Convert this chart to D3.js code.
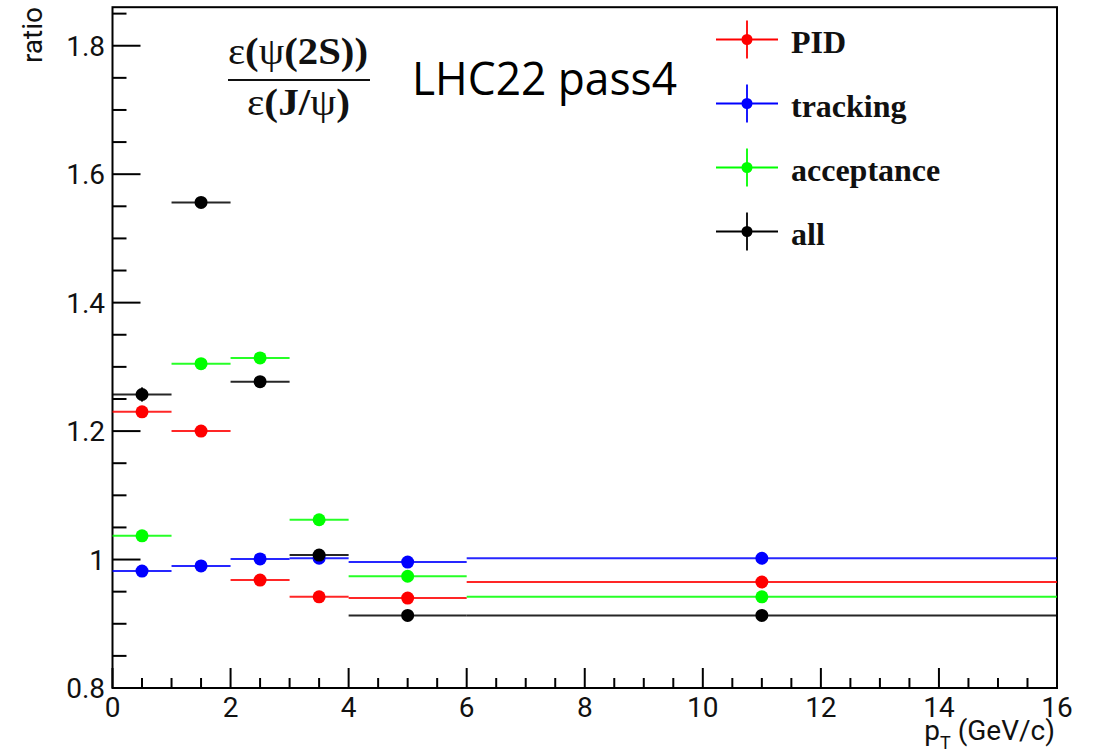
<!DOCTYPE html>
<html>
<head>
<meta charset="utf-8">
<script src="https://cdn.jsdelivr.net/npm/d3@7.9.0/dist/d3.min.js"></script>
<style>
  body { margin: 0; background: #fff; }
  svg { display: block; }
  .tick-label { font-family: Roboto, "Liberation Sans", sans-serif; font-size: 28px; fill: #111; }
</style>
</head>
<body>
<svg id="chart" width="1096" height="756"></svg>
<script>
// pT bins (GeV/c)
const binLo = [0, 1, 2, 3, 4, 6];
const binHi = [1, 2, 3, 4, 6, 16];
const binCenter = [0.5, 1.5, 2.5, 3.5, 5, 11];

// efficiency ratio psi(2S)/Jpsi per bin
const pid        = [1.230, 1.200, 0.968, 0.942, 0.940, 0.965];
const tracking   = [0.982, 0.990, 1.001, 1.002, 0.996, 1.002];
const acceptance = [1.037, 1.305, 1.314, 1.062, 0.974, 0.942];
const all        = [1.257, 1.556, 1.277, 1.007, 0.913, 0.913];
const allErr     = [0.011, 0.003, 0.003, 0.003, 0.002, 0.002];

const seriesNames  = ['PID', 'tracking', 'acceptance', 'all'];
const seriesColors = ['#ff0000', '#0000ff', '#00ff00', '#000000'];
const seriesValues = [pid, tracking, acceptance, all];
const seriesErrors = [null, null, null, allErr];

const yMajor = [0.8, 1.0, 1.2, 1.4, 1.6, 1.8];
const xMajor = [0, 2, 4, 6, 8, 10, 12, 14, 16];

const svg = d3.select('#chart');
const x = d3.scaleLinear().domain([0, 16]).range([112.5, 1057]);
const y = d3.scaleLinear().domain([0.8, 1.86]).range([688, 7.2]);

// frame
svg.append('rect')
  .attr('x', x(0)).attr('y', y(1.86))
  .attr('width', x(16) - x(0)).attr('height', y(0.8) - y(1.86))
  .attr('fill', 'none').attr('stroke', '#000').attr('stroke-width', 2);

// y ticks: major every 0.2, minor every 0.05
const yMinor = d3.range(0.8, 1.8601, 0.05);
svg.append('g').selectAll('line').data(yMinor).join('line')
  .attr('x1', x(0)).attr('x2', (d) => x(0) + (yMajor.some((m) => Math.abs(m - d) < 1e-6) ? 28 : 14))
  .attr('y1', (d) => y(d)).attr('y2', (d) => y(d))
  .attr('stroke', '#000').attr('stroke-width', 2);
svg.append('g').selectAll('text').data(yMajor).join('text')
  .attr('class', 'tick-label')
  .attr('x', 105).attr('y', (d) => y(d) + 10)
  .attr('text-anchor', 'end')
  .text((d) => Math.abs(d - 1) < 1e-6 ? '1' : d3.format('.1f')(d));

// x ticks: major every 2, minor every 0.5
const xMinor = d3.range(0, 16.001, 0.5);
svg.append('g').selectAll('line').data(xMinor).join('line')
  .attr('x1', (d) => x(d)).attr('x2', (d) => x(d))
  .attr('y1', y(0.8)).attr('y2', (d) => y(0.8) - (d % 2 === 0 ? 20 : 10))
  .attr('stroke', '#000').attr('stroke-width', 2);
svg.append('g').selectAll('text').data(xMajor).join('text')
  .attr('class', 'tick-label')
  .attr('x', (d) => x(d)).attr('y', 717)
  .attr('text-anchor', 'middle')
  .text((d) => d);

// axis titles
const xt = svg.append('text').attr('class', 'tick-label')
  .attr('x', 1055).attr('y', 740).attr('text-anchor', 'end');
xt.append('tspan').text('p');
xt.append('tspan').attr('dy', 9).attr('font-size', 18).text('T');
xt.append('tspan').attr('dy', -9).text(' (GeV/c)');

svg.append('text').attr('class', 'tick-label')
  .attr('transform', 'translate(42,7) rotate(-90)')
  .attr('text-anchor', 'end')
  .text('ratio');

// data: horizontal bin-width bars + markers
seriesValues.forEach((vals, s) => {
  const g = svg.append('g');
  const col = seriesColors[s];
  g.selectAll('line.h').data(vals).join('line')
    .attr('class', 'h')
    .attr('x1', (d, i) => x(binLo[i])).attr('x2', (d, i) => x(binHi[i]))
    .attr('y1', (d) => y(d)).attr('y2', (d) => y(d))
    .attr('stroke', col).attr('stroke-width', 2).attr('stroke-opacity', 0.85);
  if (seriesErrors[s]) {
    g.selectAll('line.v').data(vals).join('line')
      .attr('class', 'v')
      .attr('x1', (d, i) => x(binCenter[i])).attr('x2', (d, i) => x(binCenter[i]))
      .attr('y1', (d, i) => y(d - seriesErrors[s][i])).attr('y2', (d, i) => y(d + seriesErrors[s][i]))
      .attr('stroke', col).attr('stroke-width', 2);
  }
  g.selectAll('circle').data(vals).join('circle')
    .attr('cx', (d, i) => x(binCenter[i])).attr('cy', (d) => y(d))
    .attr('r', 6.5).attr('fill', col);
});

// legend
const leg = svg.append('g');
seriesNames.forEach((name, i) => {
  const cy = 39.5 + i * 64;
  const col = seriesColors[i];
  leg.append('line').attr('x1', 716).attr('x2', 778).attr('y1', cy).attr('y2', cy)
    .attr('stroke', col).attr('stroke-width', 1.8);
  leg.append('line').attr('x1', 747).attr('x2', 747).attr('y1', cy - 19).attr('y2', cy + 19)
    .attr('stroke', col).attr('stroke-width', 1.8);
  leg.append('circle').attr('cx', 747).attr('cy', cy).attr('r', 5.5).attr('fill', col);
  leg.append('text').attr('x', 791).attr('y', cy + 13.5)
    .attr('font-family', '"Liberation Serif", "DejaVu Serif", serif')
    .attr('font-weight', 'bold').attr('font-size', 32).attr('fill', '#111')
    .text(name);
});

// efficiency ratio label
const serif = '"Liberation Serif", "DejaVu Serif", serif';
const num = svg.append('text').attr('x', 228).attr('y', 64)
  .attr('font-family', serif).attr('font-size', 37).attr('fill', '#111')
  .attr('textLength', 140).attr('lengthAdjust', 'spacingAndGlyphs');
num.append('tspan').text('ε');
num.append('tspan').attr('font-weight', 'bold').text('(');
num.append('tspan').text('ψ');
num.append('tspan').attr('font-weight', 'bold').text('(2S))');
svg.append('line').attr('x1', 228).attr('x2', 370).attr('y1', 80).attr('y2', 80)
  .attr('stroke', '#111').attr('stroke-width', 2);
const den = svg.append('text').attr('x', 247).attr('y', 115)
  .attr('font-family', serif).attr('font-size', 37).attr('fill', '#111')
  .attr('textLength', 103).attr('lengthAdjust', 'spacingAndGlyphs');
den.append('tspan').text('ε');
den.append('tspan').attr('font-weight', 'bold').text('(J/');
den.append('tspan').text('ψ');
den.append('tspan').attr('font-weight', 'bold').text(')');

svg.append('text').attr('x', 412).attr('y', 95)
  .attr('font-family', '"Open Sans", "Noto Sans", sans-serif').attr('font-size', 45)
  .attr('fill', '#000')
  .attr('textLength', 265).attr('lengthAdjust', 'spacingAndGlyphs')
  .text('LHC22 pass4');
</script>
</body>
</html>
